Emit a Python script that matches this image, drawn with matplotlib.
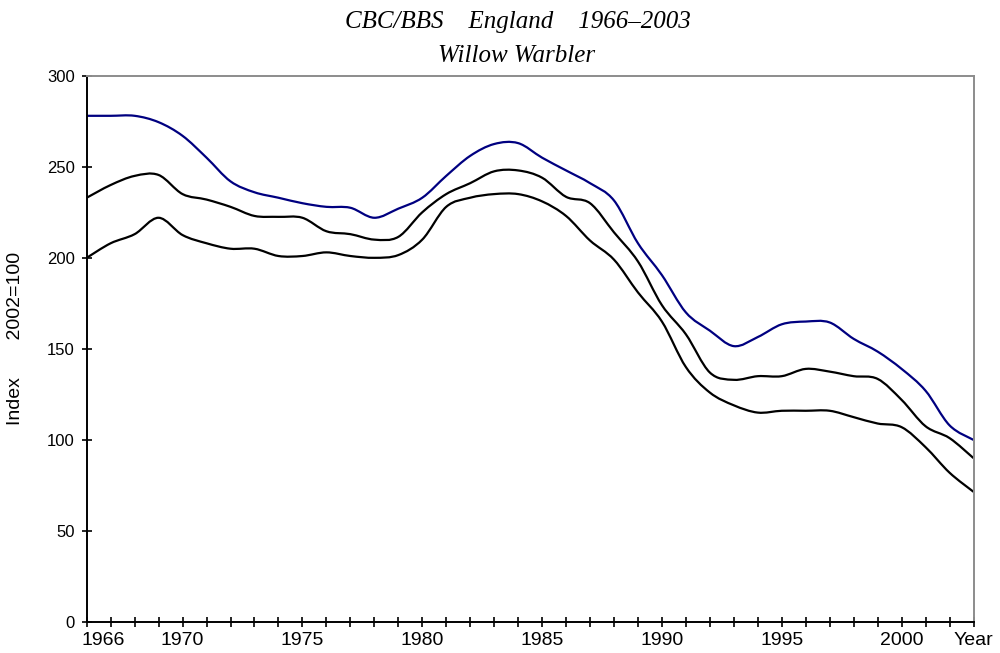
import numpy as np
import matplotlib.pyplot as plt
from matplotlib.path import Path
from matplotlib.patches import PathPatch
from matplotlib.transforms import ScaledTranslation

# Years on the x axis
anos = list(range(1966, 2004))

# Upper confidence limit (blue)
limite_superior = [278, 278, 278, 274.5, 267, 255, 242, 236, 233, 230,
                   228, 227.5, 222, 227, 233, 245, 256, 262.5, 263, 255,
                   248, 241, 231.5, 208, 190.5, 170, 160, 151.5, 156.5, 163.5,
                   165, 164.5, 155.5, 148.5, 139, 127, 108, 100]

# Smoothed index
indice = [233, 240, 245, 245.5, 235, 232, 228, 223, 222.5, 222,
          214.6, 213, 210, 211.5, 225, 235, 241, 247.5, 248, 244,
          233.5, 230, 214, 198, 174, 158, 137, 133, 135, 135,
          139, 137.5, 135, 133.5, 122, 107.5, 101, 90]

# Lower confidence limit
limite_inferior = [200, 208, 213, 222, 212.5, 208, 205, 205, 201, 201,
                   203, 201, 200, 201.5, 210, 228, 233, 235, 235, 231,
                   223, 209.5, 199, 181, 165, 140, 126, 119, 115, 116,
                   116, 116, 112.5, 109, 107, 96, 82, 71.5]

rotulos_x = {1966: '1966', 1970: '1970', 1975: '1975', 1980: '1980',
             1985: '1985', 1990: '1990', 1995: '1995', 2000: '2000', 2003: 'Year'}
ticks_y = [0, 50, 100, 150, 200, 250, 300]


def caminho_suavizado(x, y, tensao=1/6):
    """
    Builds a smooth Bezier path (Catmull-Rom style) through the points, like a smoothed Excel line
    """
    x = np.asarray(x, dtype=float)
    y = np.asarray(y, dtype=float)
    pts = np.column_stack([x, y])
    # Extends the end points so the tangents are defined
    ext = np.vstack([pts[0], pts, pts[-1]])
    vertices = [pts[0]]
    codigos = [Path.MOVETO]
    for i in range(1, len(ext) - 2):
        p0, p1, p2, p3 = ext[i - 1], ext[i], ext[i + 1], ext[i + 2]
        c1 = p1 + (p2 - p0) * tensao
        c2 = p2 - (p3 - p1) * tensao
        vertices += [c1, c2, p2]
        codigos += [Path.CURVE4, Path.CURVE4, Path.CURVE4]
    return Path(vertices, codigos)


fig = plt.figure(figsize=(10, 6.53), dpi=100)
ax = fig.add_axes([0.0867, 0.0475, 0.8868, 0.8365])

for serie, cor in [(limite_superior, '#000080'), (indice, 'black'), (limite_inferior, 'black')]:
    patch = PathPatch(caminho_suavizado(anos, serie), facecolor='none', edgecolor=cor, lw=1.6)
    ax.add_patch(patch)

ax.set_xlim(1966, 2003)
ax.set_ylim(0, 300)

ax.set_xticks(anos)
ax.set_xticklabels([rotulos_x.get(a, '') for a in anos], fontsize=14, family='Liberation Sans')
ax.set_yticks(ticks_y)
ax.set_yticklabels([str(v) for v in ticks_y], fontsize=12, family='Liberation Sans')
ax.tick_params(axis='both', direction='inout', length=7, width=1.2, color='black')
ax.tick_params(axis='x', pad=3.5)
ax.tick_params(axis='y', pad=5)

# The first year label starts at the axis instead of being centred on it
primeiro = ax.get_xticklabels()[0]
primeiro.set_horizontalalignment('left')
primeiro.set_transform(primeiro.get_transform() + ScaledTranslation(-5 / 100, 0, fig.dpi_scale_trans))

for lado in ['left', 'bottom']:
    ax.spines[lado].set_color('black')
    ax.spines[lado].set_linewidth(1.4)
for lado in ['top', 'right']:
    ax.spines[lado].set_color('#8c8c8c')
    ax.spines[lado].set_linewidth(1.4)

fig.text(0.0155, 0.482, 'Index       2002=100', rotation=90, ha='center', va='center',
         fontsize=14, family='Liberation Sans')

fig.text(0.5175, 0.957, 'CBC/BBS    England    1966\u20132003', ha='center', va='baseline',
         fontsize=18, family='Liberation Serif', style='italic')
fig.text(0.517, 0.905, 'Willow Warbler', ha='center', va='baseline',
         fontsize=18, family='Liberation Serif', style='italic')

fig.savefig('out.png', dpi=100)
